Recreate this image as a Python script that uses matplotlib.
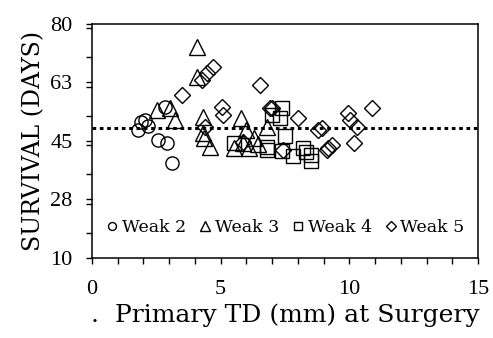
import matplotlib.pyplot as plt
from matplotlib.ticker import FixedLocator, FixedFormatter, MultipleLocator

plt.rcParams['font.family'] = ['DejaVu Serif', 'Liberation Serif']

# Weak 2
w2_x = [1.79, 2.06, 2.18, 1.9, 2.57, 2.91, 3.11, 2.84]
w2_y = [48.3, 51.3, 49.5, 50.7, 45.3, 44.4, 38.4, 55.2]
# Weak 3
w3_x = [4.08, 4.08, 2.53, 3.03, 3.23, 4.3, 4.3, 4.35, 4.6, 5.8, 6.0, 5.5, 6.1, 5.85, 6.8, 6.3, 6.45]
w3_y = [73.0, 64.1, 54.3, 54.9, 51.3, 52.2, 47.5, 45.8, 43.2, 51.9, 48.3, 42.9, 42.9, 44.5, 49.2, 46.0, 44.0]
# Weak 4
w4_x = [5.5, 6.8, 7.0, 7.4, 7.3, 7.5, 6.8, 7.4, 7.8, 8.3, 8.5, 8.5, 8.2]
w4_y = [44.4, 42.3, 52.8, 54.9, 52.0, 46.5, 43.2, 42.0, 40.5, 41.8, 40.8, 39.0, 43.0]
# Weak 5
w5_x = [4.7, 4.47, 4.28, 3.5, 6.53, 5.05, 5.1, 4.4, 6.9, 5.87, 7.0, 8.0, 8.8, 7.42,
        9.17, 10.88, 9.95, 10.03, 10.3, 10.2, 8.94, 9.33, 9.13]
w5_y = [67.1, 65.3, 63.2, 58.8, 61.8, 55.2, 52.8, 49.2, 54.9, 44.7, 54.9, 51.9, 48.3, 42.3,
        42.9, 54.9, 53.4, 51.3, 49.2, 44.4, 48.9, 43.8, 42.3]

mean_line = 49.0
y_ticks = [10, 27.5, 45, 62.5, 80]
y_ticklabels = ['10', '28', '45', '63', '80']

fig = plt.figure(figsize=(4.93, 3.38), dpi=100)
ax = fig.add_axes([0.1866, 0.2367, 0.783, 0.6923])

kw = dict(linestyle='none', markerfacecolor='none', markeredgecolor='black', markeredgewidth=1.0)
ax.plot(w2_x, w2_y, marker='o', markersize=9.5, label='Weak 2', **kw)
ax.plot(w3_x, w3_y, marker='^', markersize=11, label='Weak 3', **kw)
ax.plot(w4_x, w4_y, marker='s', markersize=10.5, label='Weak 4', **kw)
ax.plot(w5_x, w5_y, marker='D', markersize=8, label='Weak 5', **kw)

ax.axhline(mean_line, color='black', linestyle=(0, (1.2, 1.2)), linewidth=2.2)

ax.set_xlim(0, 15)
ax.set_ylim(10, 80)
ax.xaxis.set_major_locator(MultipleLocator(5))
ax.xaxis.set_minor_locator(MultipleLocator(1))
ax.yaxis.set_major_locator(FixedLocator(y_ticks))
ax.yaxis.set_major_formatter(FixedFormatter(y_ticklabels))
ax.yaxis.set_minor_locator(MultipleLocator(8.75))
ax.tick_params(which='both', direction='out', length=4, width=1)
ax.tick_params(axis='x', pad=12)
ax.tick_params(axis='y', pad=10)
for lab in ax.get_xticklabels() + ax.get_yticklabels():
    lab.set_family('Liberation Serif')
    lab.set_fontsize(16)
for s in ax.spines.values():
    s.set_linewidth(1.1)

ax.set_xlabel('.  Primary TD (mm) at Surgery', fontsize=18, labelpad=3)
ax.set_ylabel('SURVIVAL (DAYS)', fontsize=17, labelpad=4)

ax.legend(loc='lower center', bbox_to_anchor=(0.5, 0.05), ncol=4, frameon=False,
          fontsize=12.5, markerscale=0.6, handlelength=0.8, handletextpad=0.15,
          columnspacing=0.7, borderaxespad=0.2)

fig.savefig('out.png', dpi=100)
